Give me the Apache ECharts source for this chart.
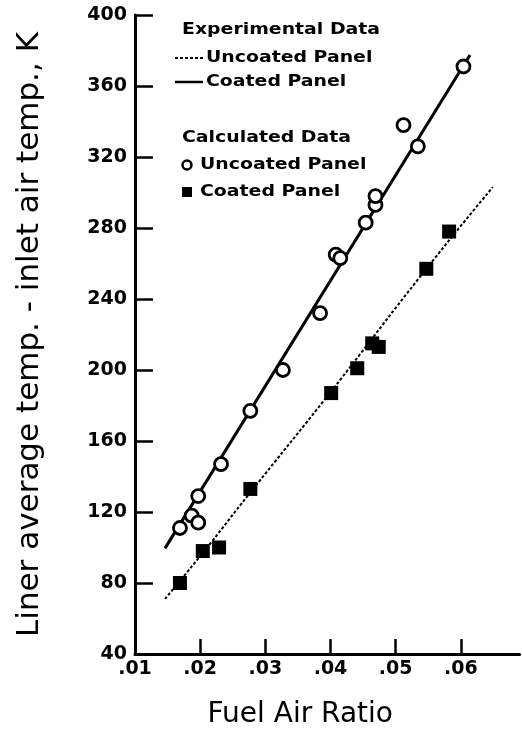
<!DOCTYPE html>
<html>
    <head>
        <meta charset=utf-8>
    </head>
    <body style="margin:0">
        <div id="chart" style="width:522px;height:734px"></div>
        <script src="https://cdn.jsdelivr.net/npm/echarts@6/dist/echarts.min.js"></script>
        <script type="text/javascript">

            var myChart = echarts.init(document.querySelector('#chart'));

            // calculated data, uncoated panel (open circles)
            let uncoatedFar  = [0.0169, 0.0187, 0.0197, 0.0197, 0.0232, 0.0277, 0.0327, 0.0384, 0.0408, 0.0415, 0.0454, 0.0469, 0.0469, 0.0512, 0.0534, 0.0604]
            let uncoatedTemp = [111, 118, 114, 129, 147, 177, 200, 232, 265, 263, 283, 293, 298, 338, 326, 371]
            // calculated data, coated panel (filled squares)
            let coatedFar  = [0.0169, 0.0204, 0.0229, 0.0277, 0.0401, 0.0441, 0.0464, 0.0474, 0.0547, 0.0582]
            let coatedTemp = [80, 98, 100, 133, 187, 201, 215, 213, 257, 278]
            // experimental curves
            let solidFar  = [0.0146, 0.0614]
            let solidTemp = [99.5, 377.5]
            let dashFar  = [0.0146, 0.0204, 0.0277, 0.0401, 0.0547, 0.0649]
            let dashTemp = [71, 97, 131, 188, 257, 303]

            let xTicks = [0.01, 0.02, 0.03, 0.04, 0.05, 0.06]
            let yTicks = [40, 80, 120, 160, 200, 240, 280, 320, 360, 400]

            const zip = (a, b) => a.map((v, i) => [v, b[i]])

            const tickFont = {
                color: '#000',
                fontFamily: 'DejaVu Sans',
                fontWeight: 'bold',
                fontSize: 19
            }
            // legend text is drawn wide, like the scan
            const legText = (txt, x, y) => ({
                type: 'text', x: x, y: y, scaleX: 1.18,
                style: {text: txt, fill: '#000', fontFamily: 'DejaVu Sans', fontWeight: 'bold', fontSize: 16, textVerticalAlign: 'middle'}
            })

            let option = {
            animation: false,
            grid: {
                left: 135,
                right: 2.5,
                top: 15,
                bottom: 79,
                containLabel: false,
            },
            xAxis: {
                type: 'value',
                min: 0.01,
                max: 0.069,
                interval: 0.01,
                name: 'Fuel Air Ratio',
                nameLocation: 'middle',
                nameGap: 47,
                nameTextStyle: {color: '#000', fontFamily: 'DejaVu Sans', fontSize: 28, padding: [0, 54, 0, 0]},
                axisLine: {lineStyle: {color: '#000', width: 3}},
                axisTick: {inside: true, length: 15, customValues: xTicks, lineStyle: {color: '#000', width: 2.5}},
                axisLabel: Object.assign({
                    margin: 6,
                    customValues: xTicks,
                    formatter: v => v.toFixed(2).replace(/^0/, '')
                }, tickFont),
                splitLine: {show: false},
            },
            yAxis: {
                type: 'value',
                min: 40,
                max: 400,
                interval: 40,
                name: 'Liner average temp. - inlet air temp., K',
                nameLocation: 'middle',
                nameGap: 90,
                nameTextStyle: {color: '#000', fontFamily: 'DejaVu Sans', fontSize: 31},
                axisLine: {lineStyle: {color: '#000', width: 3}},
                axisTick: {inside: true, length: 18, customValues: yTicks, lineStyle: {color: '#000', width: 2.5}},
                axisLabel: Object.assign({margin: 8, customValues: yTicks}, tickFont),
                splitLine: {show: false},
            },
            series: [
                {
                    name: 'expCoated',
                    type: 'line',
                    data: zip(solidFar, solidTemp),
                    symbol: 'none',
                    lineStyle: {color: '#000', width: 3},
                    z: 2
                },
                {
                    name: 'expUncoated',
                    type: 'line',
                    smooth: true,
                    data: zip(dashFar, dashTemp),
                    symbol: 'none',
                    lineStyle: {color: '#000', width: 2, type: [3, 2]},
                    z: 2
                },
                {
                    name: 'calcUncoated',
                    type: 'scatter',
                    data: zip(uncoatedFar, uncoatedTemp),
                    symbol: 'circle',
                    symbolSize: 13,
                    itemStyle: {color: '#fff', borderColor: '#000', borderWidth: 2.8, opacity: 1},
                    z: 3
                },
                {
                    name: 'calcCoated',
                    type: 'scatter',
                    data: zip(coatedFar, coatedTemp),
                    symbol: 'rect',
                    symbolSize: 14,
                    itemStyle: {color: '#000', opacity: 1},
                    z: 3
                },
            ],
            graphic: [
                legText('Experimental Data', 182, 30),
                {type: 'line', shape: {x1: 175, y1: 58, x2: 203, y2: 58}, style: {stroke: '#000', lineWidth: 2, lineDash: [3, 2]}},
                legText('Uncoated Panel', 206, 58),
                {type: 'line', shape: {x1: 175, y1: 82, x2: 203, y2: 82}, style: {stroke: '#000', lineWidth: 2.5}},
                legText('Coated Panel', 206, 82),
                legText('Calculated Data', 182, 138),
                {type: 'circle', shape: {cx: 187, cy: 165, r: 4.5}, style: {fill: '#fff', stroke: '#000', lineWidth: 2.5}},
                legText('Uncoated Panel', 200, 165),
                {type: 'rect', shape: {x: 182, y: 187, width: 10, height: 10}, style: {fill: '#000'}},
                legText('Coated Panel', 200, 192),
            ],
            }
            myChart.setOption(option);
        </script>
    </body>
</html>
